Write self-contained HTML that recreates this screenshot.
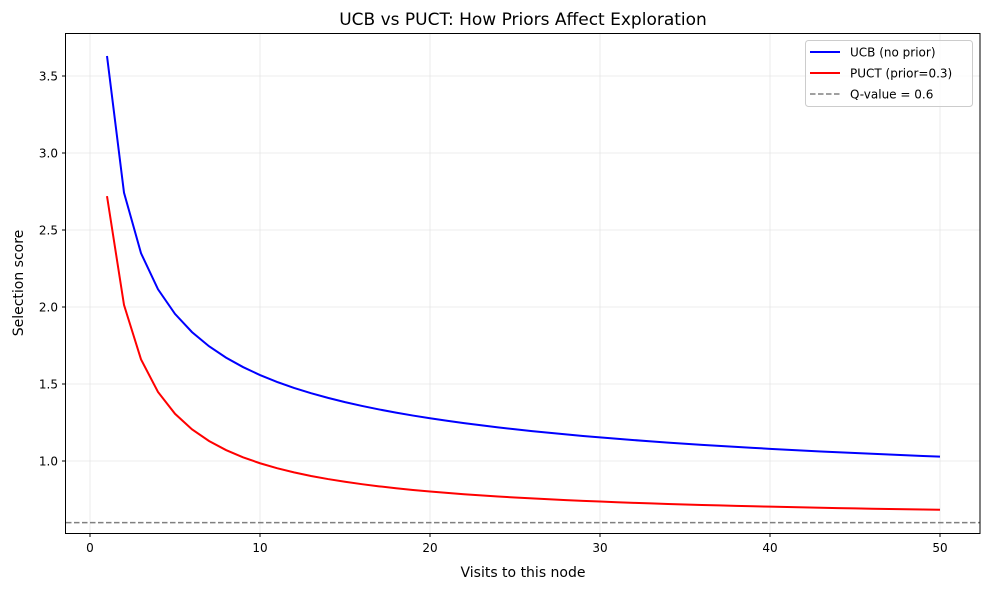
<!DOCTYPE html>
<html><head><style>body{margin:0;background:#fff}svg{font-family:"DejaVu Sans","Liberation Sans",sans-serif}</style></head>
<body>
<svg id="s" width="989" height="590" xmlns="http://www.w3.org/2000/svg">
<rect width="989" height="590" fill="#fff"/>
<g id="grid" stroke="#e6e6e6" stroke-width="0.8"></g>
<line x1="66" y1="522.6" x2="980" y2="522.6" stroke="#808080" stroke-width="1.5" stroke-dasharray="5.5,2.5"/>
<polyline id="ucb" fill="none" stroke="#0000ff" stroke-width="2"/>
<polyline id="puct" fill="none" stroke="#ff0000" stroke-width="2"/>
<rect x="65.5" y="33.5" width="914.5" height="500" fill="none" stroke="#000" stroke-width="1"/>
<g id="ticks" font-size="12" fill="#000"></g>
<text x="523" y="25" font-size="17" text-anchor="middle">UCB vs PUCT: How Priors Affect Exploration</text>
<text x="523" y="577" font-size="14" text-anchor="middle">Visits to this node</text>
<text x="23" y="283" font-size="14" text-anchor="middle" transform="rotate(-90 23 283)">Selection score</text>
<rect x="805.5" y="40.5" width="167" height="66" rx="3" fill="#fff" fill-opacity="0.8" stroke="#ccc"/>
<line x1="810" y1="52" x2="840" y2="52" stroke="#0000ff" stroke-width="2"/>
<text x="850" y="56.5" font-size="12">UCB (no prior)</text>
<line x1="810" y1="73" x2="840" y2="73" stroke="#ff0000" stroke-width="2"/>
<text x="850" y="77.5" font-size="12">PUCT (prior=0.3)</text>
<line x1="810" y1="94" x2="840" y2="94" stroke="#808080" stroke-width="1.5" stroke-dasharray="5.5,2.5"/>
<text x="850" y="98.5" font-size="12">Q-value = 0.6</text>
</svg>
<script>
var X=function(n){return 90+17*n},Y=function(v){return 461-(v-1)*154};
var u=[],p=[];
for(var n=1;n<=50;n++){u.push(X(n)+","+Y(0.6+3.03/Math.sqrt(n)));p.push(X(n)+","+Y(0.6+4.24/(1+n)));}
document.getElementById('ucb').setAttribute('points',u.join(' '));
document.getElementById('puct').setAttribute('points',p.join(' '));
var g=document.getElementById('grid'),t=document.getElementById('ticks'),ns="http://www.w3.org/2000/svg";
function el(par,tag,a,txt){var e=document.createElementNS(ns,tag);for(var k in a)e.setAttribute(k,a[k]);if(txt)e.textContent=txt;par.appendChild(e);}
[0,10,20,30,40,50].forEach(function(v){var x=X(v);el(g,'line',{x1:x,x2:x,y1:34,y2:533});el(t,'line',{x1:x,x2:x,y1:533.5,y2:537,stroke:'#000'});el(t,'text',{x:x,y:552,'text-anchor':'middle'},String(v));});
[1.0,1.5,2.0,2.5,3.0,3.5].forEach(function(v){var y=Y(v);el(g,'line',{x1:66,x2:980,y1:y,y2:y});el(t,'line',{x1:62,x2:65.5,y1:y,y2:y,stroke:'#000'});el(t,'text',{x:58,y:y+4.5,'text-anchor':'end'},v.toFixed(1));});
</script>
</body></html>
